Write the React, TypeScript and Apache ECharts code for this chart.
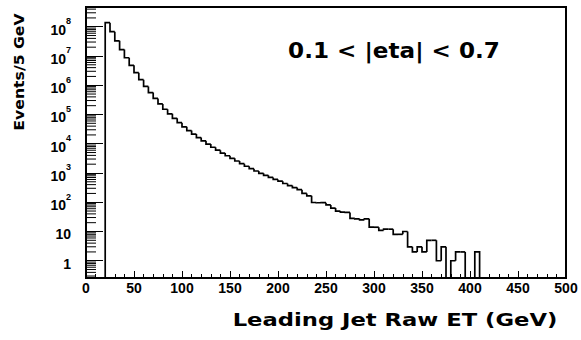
import React, { useEffect, useRef } from 'react';
import * as echarts from 'echarts';

// Histogram: leading jet raw ET, 5 GeV bins starting at 20 GeV
const binStart = 20;
const binWidth = 5;
const counts = [
  138000000, 67600000, 33100000, 16600000, 8710000, 4790000, 2690000, 1550000,
  912000, 562000, 355000, 229000, 151000, 105000, 74100, 52500,
  38000, 28200, 21400, 16200, 12600, 9770, 7590, 6030,
  4790, 3890, 3160, 2570, 2090, 1700, 1410, 1170,
  977, 832, 708, 603, 525, 437, 372, 316,
  269, 200, 166, 98, 96, 97, 81, 63,
  50, 46, 45, 28, 27, 25, 27, 14,
  14, 11, 12, 12, 8, 8, 10, 3,
  2, 3, 2, 5, 5, 1, 3, 0,
  1, 2, 2, 0, 0, 2,
];

const xMin = 0;
const xMax = 500;
const xMajorStep = 50;
const yMin = 0.257;
const yMax = 4.73e8;
const yDecades = [0, 1, 2, 3, 4, 5, 6, 7, 8];

const titleText = '0.1 < |eta| < 0.7';
const xTitle = 'Leading Jet Raw ET (GeV)';
const yTitle = 'Events/5 GeV';

export default function App() {
  const ref = useRef<HTMLDivElement>(null);
  useEffect(() => {
    const chart = echarts.init(ref.current!, null, { renderer: 'svg' });
    const binData = counts.map((c, i) => [
      binStart + i * binWidth,
      binStart + (i + 1) * binWidth,
      c,
      i === 0 ? 0 : counts[i - 1],
    ]);
    const minorTickVals: number[][] = [];
    for (let e = -1; e <= yDecades[yDecades.length - 1]; e++) {
      for (let m = 2; m <= 9; m++) {
        const v = m * Math.pow(10, e);
        if (v > yMin && v < yMax) minorTickVals.push([0, v]);
      }
    }
    const labelFont = '"Liberation Sans Narrow", "Liberation Sans", Arial, sans-serif';
    chart.setOption({
      animation: false,
      backgroundColor: '#fff',
      grid: {
        left: 86,
        right: 15,
        top: 7,
        bottom: 62,
        show: true,
        borderColor: '#000',
        borderWidth: 2,
        backgroundColor: 'transparent',
      },
      xAxis: {
        type: 'value',
        min: xMin,
        max: xMax,
        interval: xMajorStep,
        splitLine: { show: false },
        axisLine: { show: true, lineStyle: { color: '#000', width: 2 } },
        axisTick: { show: true, inside: true, length: 7, lineStyle: { color: '#000', width: 1 } },
        minorTick: { show: true, splitNumber: 5, length: 4, lineStyle: { color: '#000', width: 1 } },
        axisLabel: {
          color: '#000',
          fontFamily: labelFont,
          fontWeight: 'bold',
          fontSize: 14,
          margin: 3,
        },
      },
      yAxis: {
        type: 'log',
        logBase: 10,
        min: yMin,
        max: yMax,
        splitNumber: 10,
        splitLine: { show: false },
        axisLine: { show: true, lineStyle: { color: '#000', width: 2 } },
        axisTick: { show: true, inside: true, length: 17, lineStyle: { color: '#000', width: 1 } },
        minorTick: { show: false },
        axisLabel: {
          showMinLabel: false,
          showMaxLabel: false,
          margin: 15,
          formatter: (v: number) => {
            const n = Math.round(Math.log10(v));
            if (n === 0) return '{b|1}';
            if (n === 1) return '{b|10}';
            return '{b|10}{s|' + n + '}';
          },
          rich: {
            b: {
              fontFamily: labelFont,
              fontWeight: 'bold',
              fontSize: 14,
              color: '#000',
              padding: [6, 0, 0, 0],
            },
            s: {
              fontFamily: labelFont,
              fontWeight: 'bold',
              fontSize: 9,
              color: '#000',
              verticalAlign: 'top',
            },
          },
        },
      },
      graphic: [
        {
          type: 'text',
          x: 394,
          y: 51,
          scaleX: 1.1,
          style: {
            text: titleText,
            font: 'bold 21px "DejaVu Sans", sans-serif',
            fill: '#000',
            textAlign: 'center',
            textVerticalAlign: 'middle',
            align: 'center',
            verticalAlign: 'middle',
          },
        },
        {
          type: 'text',
          x: 395,
          y: 320,
          scaleX: 1.26,
          style: {
            text: xTitle,
            font: 'bold 18px "DejaVu Sans", sans-serif',
            fill: '#000',
            textAlign: 'center',
            textVerticalAlign: 'middle',
            align: 'center',
            verticalAlign: 'middle',
          },
        },
        {
          type: 'text',
          x: 19,
          y: 72,
          rotation: Math.PI / 2,
          scaleX: 1.12,
          style: {
            text: yTitle,
            font: 'bold 14px "DejaVu Sans", sans-serif',
            fill: '#000',
            textAlign: 'center',
            textVerticalAlign: 'middle',
            align: 'center',
            verticalAlign: 'middle',
          },
        },
      ],
      series: [
        {
          type: 'custom',
          name: 'minorTicks',
          silent: true,
          data: minorTickVals,
          encode: { x: 0, y: 1 },
          renderItem: (params: any, api: any) => {
            const p = api.coord([api.value(0), api.value(1)]);
            return {
              type: 'line',
              shape: { x1: p[0], y1: p[1], x2: p[0] + 10, y2: p[1] },
              style: { stroke: '#000', lineWidth: 1 },
            };
          },
        },
        {
          type: 'custom',
          name: 'hist',
          silent: true,
          data: binData,
          encode: { x: [0, 1], y: 2 },
          renderItem: (params: any, api: any) => {
            const x0 = api.value(0);
            const x1 = api.value(1);
            const c = api.value(2);
            const p = api.value(3);
            const yv = c > 0 ? c : yMin;
            const pv = p > 0 ? p : yMin;
            const pts = [api.coord([x0, pv]), api.coord([x0, yv]), api.coord([x1, yv])];
            if (params.dataIndex === counts.length - 1) pts.push(api.coord([x1, yMin]));
            return {
              type: 'polyline',
              shape: { points: pts },
              style: { stroke: '#000', lineWidth: 1.7, fill: 'none' },
            };
          },
        },
      ],
    });
    return () => chart.dispose();
  }, []);
  return (
    <div
      ref={ref}
      style={{ position: 'absolute', left: 0, top: 0, width: 581, height: 340, background: '#fff' }}
    />
  );
}
